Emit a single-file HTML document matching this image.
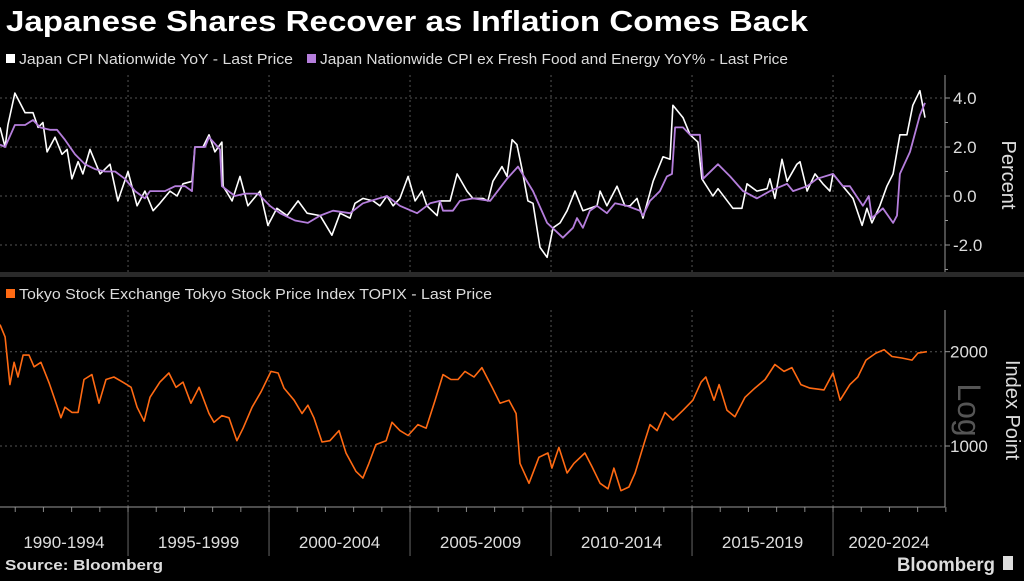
<!DOCTYPE html>
<html><head><meta charset="utf-8">
<style>
html,body{margin:0;padding:0;background:#000;}
body{width:1024px;height:576px;overflow:hidden;font-family:"Liberation Sans",sans-serif;}
svg text{font-family:"Liberation Sans",sans-serif;}
</style></head>
<body>
<svg id="chart" width="1024" height="576" viewBox="0 0 1024 576" xmlns="http://www.w3.org/2000/svg">
<rect width="1024" height="576" fill="#000"/>
<text x="6" y="31" fill="#fff" font-size="29" font-weight="bold" textLength="802" lengthAdjust="spacingAndGlyphs">Japanese Shares Recover as Inflation Comes Back</text>
<g>
<rect x="6" y="54" width="9" height="9" fill="#fff"/>
<text x="19" y="64" fill="#ddd" font-size="15" textLength="274" lengthAdjust="spacingAndGlyphs">Japan CPI Nationwide YoY - Last Price</text>
<rect x="307" y="54" width="9" height="9" fill="#b57edc"/>
<text x="320" y="64" fill="#ddd" font-size="15" textLength="468" lengthAdjust="spacingAndGlyphs">Japan Nationwide CPI ex Fresh Food and Energy YoY% - Last Price</text>
</g>
<rect x="0" y="272" width="1024" height="5" fill="#2a2a2a"/>
<g>
<rect x="6" y="289" width="9" height="9" fill="#ff6a13"/>
<text x="19" y="299" fill="#ddd" font-size="15" textLength="473" lengthAdjust="spacingAndGlyphs">Tokyo Stock Exchange Tokyo Stock Price Index TOPIX - Last Price</text>
</g>
<g id="grid"></g>
<g id="marks"></g>
<text transform="translate(1002,175) rotate(90)" text-anchor="middle" fill="#ddd" font-size="20">Percent</text>
<text transform="translate(1006,410) rotate(90)" text-anchor="middle" fill="#ddd" font-size="20">Index Point</text>
<text transform="translate(958,410) rotate(90)" text-anchor="middle" fill="#555" font-size="32">Log</text>
<text x="5" y="570" fill="#ddd" font-size="15" font-weight="bold" textLength="158" lengthAdjust="spacingAndGlyphs">Source: Bloomberg</text>
<text x="897" y="571" fill="#ddd" font-size="19" font-weight="bold" textLength="98" lengthAdjust="spacingAndGlyphs">Bloomberg</text>
<rect x="1003" y="556" width="10" height="14" fill="#ddd"/>
</svg>
<script>
const BASE_YEAR = 1990.46;
const periodLabels = ["1990-1994","1995-1999","2000-2004","2005-2009","2010-2014","2015-2019","2020-2024"];
const cpiTicks = [4, 2, 0, -2];
const topixTicks = [2000, 1000];

const cpiYears = [0,.18,.28,.53,.71,.89,1.17,1.35,1.52,1.67,
1.95,2.20,2.38,2.55,2.77,2.94,3.19,3.55,3.90,4.18,
4.54,4.86,5.14,5.43,5.67,6.03,6.28,6.49,6.81,6.91,
7.20,7.41,7.62,7.87,7.91,8.23,8.51,8.79,9.22,9.50,
9.82,10.18,10.57,10.89,11.35,11.77,12.06,12.41,12.59,12.87,
13.23,13.47,13.72,13.94,14.18,14.47,14.72,14.96,15.14,15.50,
15.60,15.96,16.21,16.56,16.77,17.13,17.30,17.48,17.80,17.98,
18.16,18.33,18.51,18.72,18.90,19.15,19.40,19.61,19.86,20.11,
20.39,20.67,21.17,21.28,21.52,21.88,22.16,22.34,22.59,22.80,
23.16,23.51,23.76,23.86,24.22,24.47,24.75,24.89,25.28,25.46,
25.99,26.31,26.49,26.84,27.20,27.30,27.48,27.73,27.91,28.26,
28.37,28.62,28.90,29.18,29.43,29.54,29.89,30.25,30.57,30.74,
30.92,31.20,31.45,31.67,31.91,32.16,32.37,32.62,32.80];
const cpiValues = [2.8,2.0,2.9,4.2,3.8,3.4,3.4,2.8,3.0,1.8,
2.4,1.7,1.9,0.7,1.4,0.9,1.9,0.9,1.3,-0.2,
1.0,-0.4,0.2,-0.6,-0.3,0.2,0,0.5,0.6,2.0,
2.0,2.5,1.8,2.2,0.4,-0.2,0.8,-0.4,0.2,-1.2,
-0.5,-0.8,-0.2,-0.7,-0.8,-1.6,-0.7,-0.9,-0.3,-0.1,
-0.2,-0.4,0,-0.4,-0.1,0.8,-0.2,0.2,-0.4,-0.8,
-0.2,-0.2,0.9,0.2,-0.1,-0.1,-0.2,0.6,1.2,0.8,
2.3,2.1,1.1,-0.2,-0.3,-2.1,-2.5,-1.3,-1.1,-0.6,
0.2,-0.6,-0.4,0.2,-0.4,0.4,-0.4,-0.4,-0.1,-0.9,
0.6,1.6,1.5,3.7,3.2,2.5,2.2,0.7,0,0.3,
-0.5,-0.5,0.5,0.2,0.3,0.7,-0.1,1.5,0.6,1.3,
1.4,0.2,0.9,0.5,0.2,0.9,0.4,-0.1,-1.2,-0.5,
-1.1,-0.4,0.4,0.9,2.5,2.5,3.7,4.3,3.2];

const coreYears = [0,.18,.53,.89,1.17,1.42,1.77,2.02,2.30,2.66,
3.01,3.37,3.72,4.08,4.43,4.79,5.14,5.32,5.85,6.21,
6.56,6.81,6.91,7.27,7.41,7.80,7.87,8.33,8.69,9.15,
9.57,9.93,10.46,10.92,11.35,11.81,12.41,12.87,13.72,14.18,
14.79,15.25,15.60,15.71,16.06,16.31,16.77,17.38,17.98,18.37,
18.90,19.40,19.96,20.32,20.46,20.67,20.92,21.17,21.52,21.81,
22.23,22.69,22.80,23.05,23.40,23.65,23.83,23.94,24.22,24.47,
24.82,24.93,25.46,25.89,26.35,26.84,27.30,27.91,28.12,28.62,
28.97,29.54,29.89,30.14,30.60,30.81,30.92,31.31,31.67,31.81,
31.91,32.27,32.62,32.80];
const coreValues = [2.1,2.0,2.9,2.9,3.1,2.8,2.7,2.7,2.3,1.7,
1.3,1.1,1.0,1.0,0.7,0.2,-0.1,0.2,0.2,0.4,
0.4,0.2,2.0,2.0,2.4,1.9,0.4,0,0.1,0.1,
-0.4,-0.7,-1.0,-1.1,-0.8,-0.6,-0.7,-0.3,0,-0.4,
-0.7,-0.3,-0.2,-0.6,-0.6,-0.2,-0.1,-0.2,0.7,1.2,
0.2,-1.1,-1.7,-1.3,-0.9,-1.3,-0.6,-0.4,-0.7,-0.3,
-0.4,-0.6,-0.8,-0.2,0.2,0.8,0.9,2.8,2.8,2.5,
2.5,0.7,1.3,0.8,0.2,-0.1,0.2,0.5,0.2,0.4,
0.7,0.9,0.4,0.4,-0.4,0,-0.9,-0.5,-1.1,-0.8,
0.9,1.8,3.3,3.8];

const topixYears = [0,.18,.35,.50,.64,.82,1.03,1.21,1.45,1.74,
1.99,2.16,2.30,2.55,2.77,2.98,3.26,3.51,3.76,4.04,
4.40,4.65,4.86,5.11,5.32,5.67,5.99,6.24,6.49,6.77,
7.06,7.41,7.59,7.87,8.12,8.40,8.62,8.94,9.26,9.61,
9.86,10.07,10.43,10.71,10.92,11.13,11.42,11.70,12.02,12.27,
12.62,12.87,13.08,13.33,13.69,13.90,14.18,14.47,14.82,15.11,
15.43,15.71,15.99,16.24,16.49,16.81,17.09,17.45,17.73,18.05,
18.30,18.44,18.76,19.11,19.43,19.57,19.82,20.11,20.35,20.74,
20.99,21.28,21.56,21.77,22.02,22.30,22.52,22.84,23.05,23.30,
23.58,23.86,24.22,24.57,24.86,25.03,25.32,25.50,25.78,26.06,
26.42,26.77,27.13,27.48,27.80,28.08,28.40,28.72,29.22,29.54,
29.79,30.14,30.42,30.71,31.06,31.35,31.63,31.98,32.34,32.55,
32.87];
const topixValues = [2440,2230,1570,1850,1660,1950,1950,1790,1850,1590,
1370,1230,1330,1280,1280,1630,1690,1370,1630,1660,
1590,1540,1330,1200,1430,1600,1710,1540,1600,1370,
1540,1270,1190,1250,1230,1040,1140,1330,1490,1730,
1710,1530,1400,1270,1350,1230,1030,1040,1120,950,
830,790,880,1010,1040,1190,1120,1080,1170,1140,
1400,1690,1630,1630,1730,1660,1780,1540,1370,1400,
1270,880,760,920,950,850,990,820,880,950,
860,760,730,850,720,740,820,1020,1170,1120,
1280,1210,1300,1400,1600,1660,1400,1570,1300,1240,
1430,1530,1630,1820,1730,1780,1570,1530,1510,1710,
1400,1570,1660,1880,1980,2030,1930,1910,1880,1980,
2000];

const NS = "http://www.w3.org/2000/svg";
const PX_PER_YEAR = 28.2;
const PLOT_RIGHT = 945;
function xScale(t){ return t * PX_PER_YEAR; }
function yCpi(v){ return 196 - v * 24.5; }
function yTopix(v){ return 351.7 - Math.log2(v / 2000) * 94.3; }
function mk(tag, attrs, parent){
  const el = document.createElementNS(NS, tag);
  for (const k in attrs) el.setAttribute(k, attrs[k]);
  parent.appendChild(el);
  return el;
}
const grid = document.getElementById('grid');
const marks = document.getElementById('marks');

for (let i = 1; i < periodLabels.length; i++) {
  const x = xScale(1990 + 5 * i - BASE_YEAR);
  const v1 = mk('line', {x1:x, x2:x, y1:75, y2:272, stroke:'#555', 'stroke-dasharray':'2,3'}, grid);
  
  
  const v2 = mk('line', {x1:x, x2:x, y1:310, y2:507, stroke:'#555', 'stroke-dasharray':'2,3'}, grid);
  
  
  const v3 = mk('line', {x1:x, x2:x, y1:507, y2:556, stroke:'#666'}, grid);
  
  
}
periodLabels.forEach((lab, i) => {
  const x0 = Math.max(0, xScale(1990 + 5 * i - BASE_YEAR));
  const x1 = Math.min(PLOT_RIGHT, xScale(1995 + 5 * i - BASE_YEAR));
  const t = mk('text', {x:(x0 + x1) / 2, y:548, 'text-anchor':'middle', fill:'#ddd', 'font-size':'17'}, grid);
  
  
  t.textContent = lab;
});
for (let yr = 1991; yr <= 2024; yr++) {
  const x = xScale(yr - BASE_YEAR);
  const tk = mk('line', {x1:x, x2:x, y1:507, y2:512, stroke:'#888'}, grid);
  
  
}
const xAxis = mk('line', {x1:0, x2:PLOT_RIGHT, y1:507, y2:507, stroke:'#999'}, grid);



const cpiAxis = mk('line', {x1:PLOT_RIGHT, x2:PLOT_RIGHT, y1:75, y2:272, stroke:'#999'}, grid);


cpiTicks.forEach(v => {
  const y = yCpi(v);
  const g = mk('line', {x1:0, x2:PLOT_RIGHT, y1:y, y2:y, stroke:'#555', 'stroke-dasharray':'2,3'}, grid);
  
  
  const tk = mk('line', {x1:PLOT_RIGHT, x2:PLOT_RIGHT + 5, y1:y, y2:y, stroke:'#999'}, grid);
  
  
  const t = mk('text', {x:953, y:y + 6, fill:'#ddd', 'font-size':'17'}, grid);
  
  
  t.textContent = v.toFixed(1);
});
[3, 1, -1, -3].forEach(v => {
  const y = yCpi(v);
  const tk = mk('line', {x1:PLOT_RIGHT, x2:PLOT_RIGHT + 3, y1:y, y2:y, stroke:'#999'}, grid);
  
  
});

const tpAxis = mk('line', {x1:PLOT_RIGHT, x2:PLOT_RIGHT, y1:310, y2:507, stroke:'#999'}, grid);


topixTicks.forEach(v => {
  const y = yTopix(v);
  const g = mk('line', {x1:0, x2:PLOT_RIGHT, y1:y, y2:y, stroke:'#555', 'stroke-dasharray':'2,3'}, grid);
  
  
  const tk = mk('line', {x1:PLOT_RIGHT, x2:PLOT_RIGHT + 5, y1:y, y2:y, stroke:'#999'}, grid);
  
  
  const t = mk('text', {x:950, y:y + 6, fill:'#ddd', 'font-size':'17'}, grid);
  
  
  t.textContent = String(v);
});

function path(years, vals, yf){
  const n = Math.min(years.length, vals.length);
  let d = '';
  for (let i = 0; i < n; i++) d += (i ? 'L' : 'M') + xScale(years[i]).toFixed(1) + ',' + yf(vals[i]).toFixed(1);
  return d;
}
const pTopix = mk('path', {d:path(topixYears, topixValues, yTopix), fill:'none', stroke:'#ff6a13', 'stroke-width':'1.6', 'stroke-linejoin':'round'}, marks);


const pCpi = mk('path', {d:path(cpiYears, cpiValues, yCpi), fill:'none', stroke:'#fff', 'stroke-width':'1.6', 'stroke-linejoin':'round'}, marks);


const pCore = mk('path', {d:path(coreYears, coreValues, yCpi), fill:'none', stroke:'#b57edc', 'stroke-width':'1.8', 'stroke-linejoin':'round'}, marks);


</script>
</body></html>
